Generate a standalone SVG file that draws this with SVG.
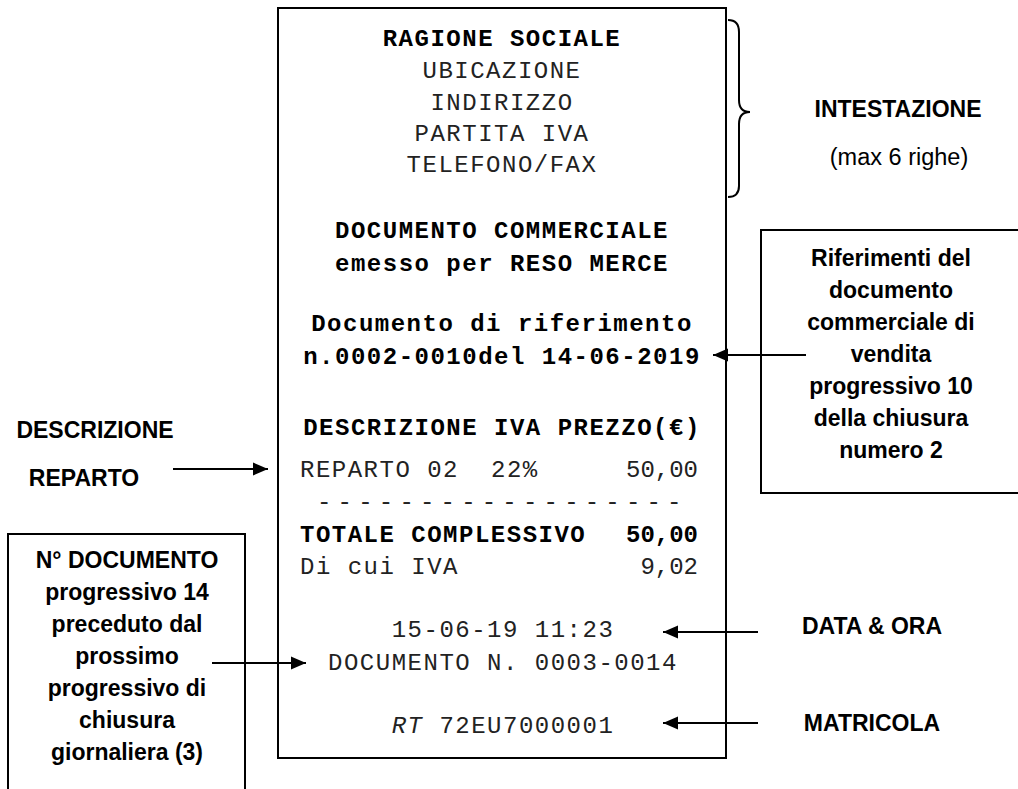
<svg xmlns="http://www.w3.org/2000/svg" width="1018" height="789" viewBox="0 0 1018 789">
<defs>
<style>
.box{fill:none;stroke:#000;stroke-width:2}
.mono{font-family:"Liberation Mono","DejaVu Sans Mono",monospace;font-size:24px;letter-spacing:1.5px;fill:#222}
.mb{font-weight:bold;fill:#000}
.lab{font-family:"Liberation Sans",Arial,sans-serif;font-size:23px;font-weight:bold;fill:#000}
.reg{font-family:"Liberation Sans",Arial,sans-serif;font-size:23.5px;fill:#000}
.c{text-anchor:middle}
.conn{stroke:#000;stroke-width:2.2;fill:none;marker-end:url(#ah)}
</style>
<marker id="ah" markerUnits="userSpaceOnUse" markerWidth="16" markerHeight="16" viewBox="0 0 16 16" refX="15" refY="8" orient="auto">
<path d="M0,1.5 L15,8 L0,14.5 Z" fill="#000"/>
</marker>
</defs>
<rect width="1018" height="789" fill="#fff"/>

<g id="receipt">
<rect class="box" x="278" y="8" width="448" height="750"/>
<text class="mono mb c" x="502" y="46">RAGIONE SOCIALE</text>
<text class="mono c" x="502" y="78">UBICAZIONE</text>
<text class="mono c" x="502" y="110">INDIRIZZO</text>
<text class="mono c" x="502" y="141">PARTITA IVA</text>
<text class="mono c" x="502" y="172">TELEFONO/FAX</text>
<text class="mono mb c" x="502" y="238">DOCUMENTO COMMERCIALE</text>
<text class="mono mb c" x="502" y="271">emesso per RESO MERCE</text>
<text class="mono mb c" x="502" y="331">Documento di riferimento</text>
<text class="mono mb c" x="502" y="364">n.0002-0010del 14-06-2019</text>
<text class="mono mb c" x="502" y="435">DESCRIZIONE IVA PREZZO(€)</text>
<text class="mono" x="300" y="477">REPARTO 02</text>
<text class="mono" x="491" y="477">22%</text>
<text class="mono" x="698" y="477" text-anchor="end" style="letter-spacing:0">50,00</text>
<text class="mono" x="317" y="509" textLength="366" lengthAdjust="spacing">------------------</text>
<text class="mono mb" x="300" y="542">TOTALE COMPLESSIVO</text>
<text class="mono mb" x="698" y="542" text-anchor="end" style="letter-spacing:0">50,00</text>
<text class="mono" x="300" y="574">Di cui IVA</text>
<text class="mono" x="698" y="574" text-anchor="end" style="letter-spacing:0">9,02</text>
<text class="mono c" x="503" y="637">15-06-19 11:23</text>
<text class="mono c" x="503" y="670">DOCUMENTO N. 0003-0014</text>
<text class="mono c" x="503" y="733"><tspan font-style="italic">RT</tspan> 72EU7000001</text>
</g>

<g id="brace">
<path class="box" d="M728,20 Q739,20 739,32 L739,100 Q739,112 750,112 Q739,112 739,124 L739,186 Q739,197 728,197"/>
</g>

<g id="intestazione">
<text class="lab c" x="898" y="117">INTESTAZIONE</text>
<text class="reg c" x="899" y="165">(max 6 righe)</text>
</g>

<g id="riferimenti">
<path class="box" d="M1020,230 L761,230 L761,493 L1020,493"/>
<text class="lab c" x="891" y="266">Riferimenti del</text>
<text class="lab c" x="891" y="298">documento</text>
<text class="lab c" x="891" y="330">commerciale di</text>
<text class="lab c" x="891" y="362">vendita</text>
<text class="lab c" x="891" y="394">progressivo 10</text>
<text class="lab c" x="891" y="426">della chiusura</text>
<text class="lab c" x="891" y="458">numero 2</text>
</g>

<g id="descrizione">
<text class="lab c" x="95" y="438">DESCRIZIONE</text>
<text class="lab c" x="84" y="486">REPARTO</text>
</g>

<g id="ndocumento">
<path class="box" d="M8,792 L8,534 L245,534 L245,792"/>
<text class="lab c" x="127" y="568">N° DOCUMENTO</text>
<text class="lab c" x="127" y="600">progressivo 14</text>
<text class="lab c" x="127" y="632">preceduto dal</text>
<text class="lab c" x="127" y="664">prossimo</text>
<text class="lab c" x="127" y="696">progressivo di</text>
<text class="lab c" x="127" y="728">chiusura</text>
<text class="lab c" x="127" y="760">giornaliera (3)</text>
</g>

<g id="dataora">
<text class="lab c" x="872" y="634">DATA &amp; ORA</text>
</g>

<g id="matricola">
<text class="lab c" x="872" y="731">MATRICOLA</text>
</g>

<g id="connectors">
<line class="conn" x1="806" y1="355" x2="713" y2="355"/>
<line class="conn" x1="173" y1="469" x2="268" y2="469"/>
<line class="conn" x1="212" y1="663" x2="306" y2="663"/>
<line class="conn" x1="758" y1="632" x2="663" y2="632"/>
<line class="conn" x1="758" y1="723" x2="663" y2="723"/>
</g>
</svg>
